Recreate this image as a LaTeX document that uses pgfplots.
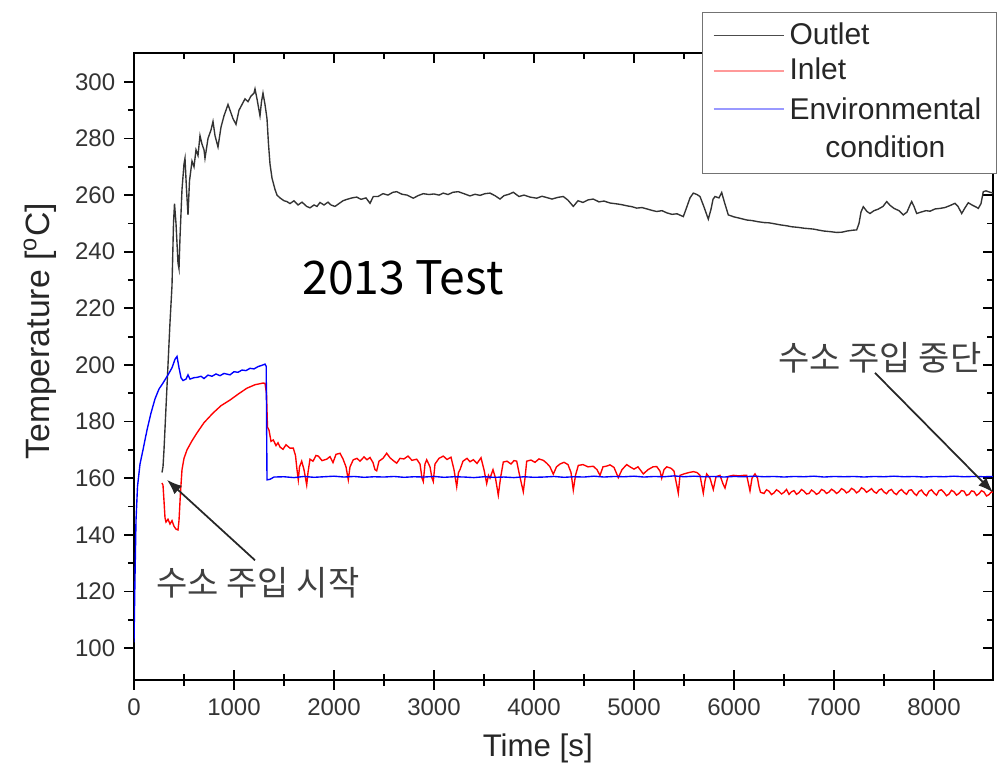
\documentclass[border=0pt]{standalone}
\usepackage{pgfplots}
\pgfplotsset{compat=1.18}
\usepackage{fontspec}
\setmainfont{Liberation Sans}
\setsansfont{Liberation Sans}
\newfontfamily\kr{Noto Sans CJK KR}
\usetikzlibrary{calc,arrows.meta}

\pgfplotsset{
  common/.style={
    scale only axis, width=343.6pt, height=250.8pt,
    xmin=0, xmax=8590, ymin=88.7, ymax=310.2,
    xtick={0,1000,...,8000}, ytick={100,120,...,300},
    minor x tick num=1, minor y tick num=1,
    major tick length=4pt, minor tick length=2.5pt,
    axis line style={line width=0.8pt},
    every tick/.style={black, line width=0.7pt},
  }
}

\begin{document}
\begin{tikzpicture}
% inward ticks on top and right (and bottom, so they cross there)
\begin{axis}[common, tick align=inside, xtick pos=both, ytick pos=right,
  xticklabels={}, yticklabels={}]
\end{axis}

\begin{axis}[common, name=ax, tick align=outside, xtick pos=left, ytick pos=left,
  ticklabel style={font=\fontsize{9.6}{10}\selectfont, text=black!80},
  /pgf/number format/assume math mode=true,
  /pgf/number format/1000 sep={},
  xlabel={Time [s]},
  ylabel={Temperature [\textsuperscript{o}C]},
  xlabel style={font=\fontsize{12.5}{14}\selectfont, text=black!85,
    at={(axis description cs:0.47,-0.1085)}, anchor=center},
  ylabel style={font=\fontsize{13.5}{15}\selectfont, text=black!85,
    at={(axis description cs:-0.1094,0.556)}, anchor=center},
  legend style={at={(rel axis cs:1.0047,1.0654)}, anchor=north east,
    draw=black!55, fill=white, line width=0.6pt,
    font=\fontsize{12}{15}\selectfont, text=black!85,
    row sep=0pt, inner xsep=4pt, inner ysep=2pt},
  legend cell align=left,
  legend image code/.code={\draw[#1] (0pt,0pt) -- (28pt,0pt);},
]
\addlegendimage{black!70, line width=0.5pt}
\addlegendentry{Outlet}
\addlegendimage{red!40, line width=0.8pt}
\addlegendentry{Inlet}
\addlegendimage{blue!40, line width=0.8pt}
\addlegendentry{\raisebox{0pt}[\height][0pt]{\begin{tabular}[t]{@{}c@{}}Environmental\\condition\end{tabular}}}
\addlegendimage{empty legend}
\addlegendentry{\strut}

% Outlet
\addplot[forget plot, black!80, line width=0.55pt] coordinates {
(280,162) (290,164) (300,170) (320,185) (340,200) (360,215) (380,228) (395,250)
(405,257) (420,250) (440,236) (450,234) (460,245) (480,262) (500,271) (510,273)
(525,262) (540,253) (555,265) (580,272) (600,270) (620,276) (640,274) (660,281)
(680,278) (700,276) (710,273) (740,280) (770,283) (790,286) (810,281) (840,277)
(870,284) (900,288) (940,292) (960,290) (990,287) (1020,285) (1050,290) (1080,292)
(1110,294) (1140,293) (1170,295) (1200,296) (1210,297.5) (1230,294) (1250,290)
(1260,288) (1275,293) (1290,296) (1310,292) (1330,287) (1345,278) (1360,271)
(1380,266) (1410,262) (1430,260) (1460,259) (1500,258) (1530,257.7)
(1560,257) (1600,258) (1640,256.5) (1680,257.5) (1727,256) (1760,255.5) (1800,256.5)
(1830,256) (1860,257.4) (1900,256.5) (1940,257.5) (1970,256.5) (2010,256) (2050,257)
(2090,258) (2130,258.5) (2180,259) (2227,259.3) (2270,258.5) (2320,259) (2360,257.1)
(2393,259.5) (2440,259.5) (2490,260.5) (2540,260) (2590,261) (2627,261.2) (2680,260.3)
(2730,260) (2793,258.9) (2840,259.8) (2893,260.5) (2950,260.2) (3000,260.4) (3050,260)
(3093,260.7) (3140,260.2) (3190,261) (3243,261.2) (3300,260.5) (3360,259.7) (3410,260.3)
(3460,259.9) (3510,260.5) (3560,260.7) (3610,259.8) (3660,258.6) (3700,259.8) (3750,260.3)
(3793,261) (3850,259.5) (3900,260) (3960,259.3) (4027,258.9) (4080,259.6) (4130,259.1)
(4180,258.6) (4240,259.2) (4293,259.5) (4340,258.2) (4393,256) (4440,258) (4490,257.4)
(4540,258.3) (4593,258.6) (4650,257.6) (4700,257.9) (4760,257.2) (4827,256.9) (4880,256.6)
(4930,256.2) (4980,255.9) (5027,255.4) (5080,255.6) (5130,255.1) (5180,254.6) (5227,254.2)
(5280,254.5) (5330,253.7) (5380,253.2) (5430,253.4) (5493,252.4) (5520,255) (5560,259)
(5593,260.7) (5630,260.2) (5660,259.5) (5700,255.8) (5743,251.5) (5770,255) (5790,258.5)
(5810,259.5) (5850,259) (5877,260.9) (5900,258) (5943,253) (6000,252.3) (6060,251.8)
(6127,251.2) (6180,251) (6240,250.6) (6300,250.3) (6350,250.2) (6400,249.9) (6460,249.5)
(6520,249.2) (6580,248.8) (6640,248.6) (6700,248.3) (6793,248) (6850,247.6) (6900,247.3)
(6960,247.1) (7027,246.8) (7080,246.9) (7130,247.3) (7190,247.6) (7227,247.7) (7250,250)
(7270,254) (7293,255.9) (7330,254.2) (7360,253.5) (7400,254.5) (7440,255) (7490,256)
(7527,257.7) (7560,256.4) (7600,255.3) (7650,254.5) (7693,253) (7730,254) (7760,256.5)
(7777,257.7) (7800,256) (7827,253.5) (7870,254) (7920,254.5) (7960,254.3) (8010,255.1)
(8060,255.3) (8110,255.6) (8160,256.3) (8210,257.1) (8240,256) (8277,253.5) (8310,255.5)
(8343,257.3) (8380,256.5) (8420,255.8) (8443,255.3) (8470,257) (8493,261.2) (8520,261.5)
(8560,261) (8600,260.7)
};

% Inlet
\addplot[forget plot, red, line width=0.55pt] coordinates {
(280,158.3) (290,157.5) (300,152) (310,146) (320,144.5) (340,145.5) (360,143.8) (380,145)
(400,143) (420,142) (440,141.7) (450,145) (465,155) (480,163) (500,167) (530,170)
(580,173.2) (630,176) (700,179.6) (790,183) (870,185.6) (960,187.6) (1050,189.9)
(1130,191.8) (1210,193) (1290,193.6) (1310,193.5) (1325,190) (1335,178) (1350,177)
(1370,173) (1393,173.5) (1420,171.5) (1440,172.5) (1460,171) (1490,170.2) (1520,171.8)
(1560,170.6) (1593,170.6) (1615,168) (1630,163) (1643,159.4) (1655,164) (1677,166)
(1700,163) (1715,160) (1727,157.6) (1740,162) (1760,166.7) (1790,166) (1820,168)
(1843,167.8) (1880,166.2) (1927,166.7) (1960,167.6) (1990,165.5) (2020,168.4) (2060,168.8)
(2090,166.8) (2120,164) (2143,159.4) (2160,164) (2193,166.5) (2230,167) (2260,166)
(2300,167.5) (2330,166.5) (2360,167.3) (2390,165.5) (2410,163) (2427,162.6) (2450,166)
(2490,167) (2527,168.8) (2560,167.2) (2600,166) (2627,165.3) (2660,167) (2700,166.8)
(2740,167.8) (2780,166.3) (2827,166.7) (2860,165) (2880,160) (2893,158.8) (2910,165)
(2927,166.5) (2960,164) (2980,160) (2993,158.8) (3010,165) (3050,167) (3093,167.8)
(3130,166.6) (3170,167.4) (3200,163) (3227,157) (3245,162) (3260,163) (3290,166)
(3330,167) (3360,165.8) (3393,166.5) (3430,165.2) (3470,167.2) (3500,163) (3527,158.1)
(3545,161) (3560,160) (3590,163) (3615,160) (3643,154) (3665,160) (3693,165.7)
(3730,166) (3770,165) (3800,166.2) (3827,166) (3850,162) (3875,158) (3893,155.2)
(3910,160) (3927,166) (3970,166.4) (4010,165.6) (4050,166.8) (4093,166.3) (4130,165.2)
(4160,164) (4193,161.4) (4225,164) (4260,165) (4300,165.6) (4340,164.8) (4370,162)
(4393,155.8) (4415,161) (4443,164.5) (4490,164.8) (4540,164) (4593,164.2) (4630,163)
(4660,161) (4690,164) (4730,164.3) (4760,164.7) (4800,163.8) (4843,160.2) (4880,163)
(4927,164.8) (4960,164) (5000,163.2) (5040,164) (5093,161.5) (5140,163) (5190,164)
(5227,164.1) (5260,162.5) (5277,160) (5300,163) (5327,164) (5370,163.5) (5400,162.5)
(5425,158) (5443,154.7) (5460,161) (5500,161.5) (5550,162) (5593,162.3) (5630,162)
(5660,161) (5693,154.7) (5710,159) (5727,161.5) (5760,160) (5793,156) (5820,160.5)
(5860,161) (5890,158) (5910,156.5) (5940,160.6) (5993,161) (6050,160.8) (6100,161)
(6127,161) (6145,158) (6160,155.5) (6180,160) (6210,161.5) (6235,160) (6250,157)
(6265,155) (6300,154.6) (6325,155.9) (6350,155.4) (6375,154.2) (6400,154.8) (6425,155.9)
(6450,155.3) (6475,154.4) (6500,155) (6525,156) (6550,154.3) (6575,155.2) (6600,155.6)
(6625,154.3) (6650,154.9) (6675,156) (6700,155.4) (6725,154.4) (6750,154.6) (6775,155.8)
(6800,155.2) (6825,154.3) (6850,154.8) (6875,156) (6900,155.6) (6925,154.6) (6950,155.1)
(6975,156.1) (7000,155.5) (7025,154.6) (7050,155.2) (7075,156.3) (7100,155.8) (7125,154.8)
(7150,155.3) (7175,156.4) (7200,155.9) (7225,154.8) (7250,155.4) (7275,156.6) (7300,156.1)
(7325,155) (7350,155.6) (7375,156.3) (7400,155.2) (7425,154.7) (7450,155.8) (7475,156.2)
(7500,155.1) (7525,154.5) (7550,155.6) (7575,156) (7600,154.8) (7625,154.2) (7650,155.4)
(7675,156) (7700,155) (7725,154.3) (7750,155.7) (7775,155.9) (7800,154.7) (7825,153.9)
(7850,155.3) (7875,155.8) (7900,154.5) (7925,153.8) (7950,155.4) (7975,155.9) (8000,154.8)
(8025,154) (8050,155.6) (8075,155.9) (8100,155) (8125,153.8) (8150,154.4) (8175,155.7)
(8200,155.2) (8225,154) (8250,154.6) (8275,155.6) (8300,155.4) (8325,153.9) (8350,154.3)
(8375,155.5) (8400,155.3) (8425,153.9) (8450,154.5) (8475,155.6) (8500,155.1) (8525,153.7)
(8550,154.2) (8575,155.2) (8600,154.8)
};

% Environmental condition
\addplot[forget plot, blue, line width=0.55pt] coordinates {
(0,102) (10,125) (20,145) (35,157) (60,165) (90,170) (130,177) (170,183) (210,188)
(250,191.5) (290,193.6) (340,196.5) (380,199) (410,202) (430,203) (450,199) (470,195.5)
(490,194.5) (520,195) (540,196.5) (560,195) (600,195.5) (630,195.6) (670,196) (700,195.2)
(740,196.4) (780,196) (820,196.8) (860,196.2) (900,197) (960,196.5) (1000,197.6)
(1040,197.4) (1080,198.2) (1120,198) (1160,198.8) (1200,198.6) (1240,199.4) (1290,200)
(1310,200.3) (1322,199.5) (1330,159.4) (1360,159.6) (1400,160.4) (1500,160.5) (1600,160.2)
(1700,160.6) (1800,160.3) (1900,160.5) (2000,160.7) (2100,160.4) (2200,160.6) (2300,160.3)
(2400,160.5) (2500,160.4) (2600,160.6) (2700,160.3) (2800,160.5) (2900,160.4) (3000,160.6)
(3100,160.3) (3200,160.5) (3300,160.4) (3400,160.2) (3500,160.5) (3600,160.3) (3700,160.4)
(3800,160.2) (3900,160.5) (4000,160.3) (4100,160.4) (4200,160.6) (4300,160.3) (4400,160.5)
(4500,160.4) (4600,160.7) (4700,160.4) (4800,160.6) (4900,160.5) (5000,160.7) (5100,160.4)
(5200,160.6) (5300,160.5) (5400,160.8) (5500,160.5) (5600,160.7) (5700,160.5) (5800,160.6)
(5900,160.4) (6000,160.6) (6100,160.5) (6200,160.7) (6300,160.5) (6400,160.6) (6500,160.4)
(6600,160.6) (6700,160.5) (6800,160.7) (6900,160.4) (7000,160.6) (7100,160.5) (7200,160.6)
(7300,160.4) (7400,160.6) (7500,160.5) (7600,160.7) (7700,160.5) (7800,160.6) (7900,160.4)
(8000,160.6) (8100,160.5) (8200,160.7) (8300,160.5) (8400,160.6) (8500,160.5) (8600,160.6)
};

\node[font=\kr\fontsize{18.5}{20}\selectfont] at (axis cs:2690,230.7) {2013 Test};
\node[font=\kr\fontsize{13.6}{15}\selectfont, text=black!75] at (axis cs:1240,123) {수소 주입 시작};
\node[font=\kr\fontsize{13.6}{15}\selectfont, text=black!75] at (axis cs:7460,202.5) {수소 주입 중단};
\draw[-{Latex[length=6pt,width=4.5pt]}, black!85, line width=0.7pt]
  (axis cs:1210,131) -- (axis cs:330,159.4);
\draw[-{Latex[length=6pt,width=4.5pt]}, black!85, line width=0.7pt]
  (axis cs:7410,197.2) -- (axis cs:8590,155);
\coordinate (bl) at (rel axis cs:0,0);
\end{axis}
\pgfresetboundingbox
\path[use as bounding box] ($(bl)+(-53.6pt,-35.2pt)$) rectangle ++(398.8pt,307.2pt);
\end{tikzpicture}
\end{document}
